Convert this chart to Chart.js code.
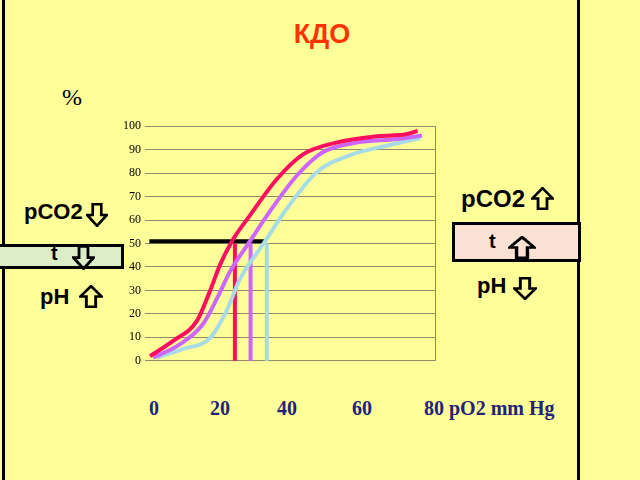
<!DOCTYPE html>
<html>
<head>
<meta charset="utf-8">
<script src="https://cdn.jsdelivr.net/npm/chart.js@4/dist/chart.umd.min.js"></script>
<style>
  html, body { margin: 0; padding: 0; }
  body { width: 640px; height: 480px; background: #ffff99; position: relative; overflow: hidden;
         font-family: "Liberation Sans", Arial, sans-serif; }
  .abs { position: absolute; }
  .lbl { font-weight: bold; font-size: 22px; color: #000; }
  .box { border: 3px solid #000; box-sizing: border-box; }
  .xl { font-family: "Liberation Serif", "Times New Roman", serif; font-weight: bold; font-size: 20px; color: #23237a; }
  #wrap { position: absolute; left: 100px; top: 115px; width: 345px; height: 257px; }
</style>
</head>
<body>
<!-- slide frame lines -->
<div class="abs" style="left:2px;top:0;width:3px;height:480px;background:#000"></div>
<div class="abs" style="left:577px;top:0;width:3px;height:480px;background:#000"></div>

<div class="abs" style="left:0;top:19px;width:644px;text-align:center;font-weight:bold;font-size:27px;color:#ff3300">КДО</div>
<div class="abs" style="left:62px;top:84px;font-family:'Liberation Serif',serif;font-size:24px">%</div>

<div class="abs box" style="left:-3px;top:244px;width:127px;height:25px;background:#dbeec8"></div>
<div class="abs box" style="left:452px;top:222px;width:129px;height:40px;background:#fce2d4"></div>

<!-- left side: shifted left -->
<div class="abs lbl" style="left:24px;top:199px">pCO2</div>
<div class="abs lbl" style="left:51px;top:242px;font-size:20px">t</div>
<div class="abs lbl" style="left:40px;top:284px">pH</div>

<!-- right side: shifted right -->
<div class="abs lbl" style="left:461px;top:185px;font-size:24px">pCO2</div>
<div class="abs lbl" style="left:489px;top:230px;font-size:20px">t</div>
<div class="abs lbl" style="left:477px;top:273px">pH</div>

<div id="deco"></div>

<div id="wrap"><canvas id="odc"></canvas></div>

<script>
// oxygen dissociation curves, pO2 (plot units) vs saturation %
const redX = [1.7, 9.7, 17.9, 22.4, 25.9, 30, 36.2, 45.5, 54.5, 66, 81, 90, 94];
const redY = [2, 8.5, 17, 29.7, 41, 51, 62, 77.5, 88, 93, 95.8, 96.6, 98];
const violetX = [2.8, 12, 20, 25, 29.3, 36.2, 43, 52.4, 61.4, 73, 87, 95.5];
const violetY = [1.3, 7, 15.7, 27, 38, 51, 63.6, 79, 89, 93, 94.5, 96];
const blueX = [4, 13, 22.4, 28, 32.8, 40.7, 49, 59.3, 70.7, 84.5, 95];
const blueY = [1.3, 5, 9.7, 21, 35, 49.6, 65, 80.5, 87.7, 92, 95];
const p50X = [31, 36.4, 42];
const p50Level = 51;
const hLineX = [1.5, 41];
const yTicks = [0, 10, 20, 30, 40, 50, 60, 70, 80, 90, 100];
const xTickText = ['0', '20', '40', '60', '80 pO2 mm Hg'];
const xTickLeft = [149, 210, 277, 352, 424];

const colors = ['#ff0d5e', '#cc66ff', '#a8dbe6'];

const deco = document.getElementById('deco');
xTickText.forEach((t, i) => {
  const d = document.createElement('div');
  d.className = 'abs xl';
  d.style.left = xTickLeft[i] + 'px';
  d.style.top = '397px';
  d.textContent = t;
  deco.appendChild(d);
});

// outlined block arrows
function arrow(dir, left, top, w, h) {
  let p = '9,1 17,10 12.5,10 12.5,19 5.5,19 5.5,10 1,10';
  if (dir === 'down') p = '9,19 17,10 12.5,10 12.5,1 5.5,1 5.5,10 1,10';
  deco.insertAdjacentHTML('beforeend',
    `<svg class="abs" style="left:${left}px;top:${top}px" width="${w}" height="${h}" viewBox="0 0 18 20" preserveAspectRatio="none">
       <polygon points="${p}" fill="none" stroke="#000" stroke-width="2.2" stroke-linejoin="miter"/></svg>`);
}
arrow('down', 86, 203, 22, 24);
arrow('down', 72, 245, 23, 25);
arrow('up', 79, 285, 24, 23);
arrow('up', 531, 187, 23, 23);
arrow('up', 508, 236, 28, 23);
arrow('down', 513, 277, 24, 23);

const pts = (xs, ys) => xs.map((x, i) => ({ x: x, y: ys[i] }));

const curve = (xs, ys, c) => ({
  data: pts(xs, ys), borderColor: c, borderWidth: 4, pointRadius: 0,
  tension: 0.4, cubicInterpolationMode: 'monotone', order: 1, clip: false
});

const datasets = [
  curve(redX, redY, colors[0]),
  curve(violetX, violetY, colors[1]),
  curve(blueX, blueY, colors[2])
];
p50X.forEach((x, i) => {
  datasets.push({ data: [{ x: x, y: 0 }, { x: x, y: p50Level - 1 }], borderColor: colors[i],
    borderWidth: 4, pointRadius: 0, order: 2, clip: false });
});
datasets.push({ data: [{ x: hLineX[0], y: p50Level }, { x: hLineX[1], y: p50Level }],
  borderColor: '#000', borderWidth: 4, pointRadius: 0, order: 3, clip: false });

new Chart(document.getElementById('odc'), {
  type: 'line',
  data: { datasets: datasets },
  options: {
    responsive: true, maintainAspectRatio: false, animation: false,
    layout: { padding: { top: 0, right: 10, bottom: 0, left: 0 } },
    plugins: { legend: { display: false }, tooltip: { enabled: false } },
    scales: {
      x: {
        type: 'linear', min: 0, max: 100,
        ticks: { display: false, stepSize: 10 },
        border: { display: false },
        grid: {
          drawTicks: false, lineWidth: 1,
          color: ctx => ctx.tick && ctx.tick.value === 100 ? '#8c8c6a' : 'rgba(0,0,0,0)'
        },
        afterFit: s => { s.height = 0; }
      },
      y: {
        min: 0, max: 100,
        afterBuildTicks: s => { s.ticks = yTicks.map(v => ({ value: v })); },
        ticks: { color: '#000', padding: 4, font: { family: 'Liberation Serif', size: 12 } },
        border: { display: false },
        grid: { drawTicks: false, color: '#8c8c6a', lineWidth: 1 },
        afterFit: s => { s.width = 45; }
      }
    }
  }
});
</script>
</body>
</html>
